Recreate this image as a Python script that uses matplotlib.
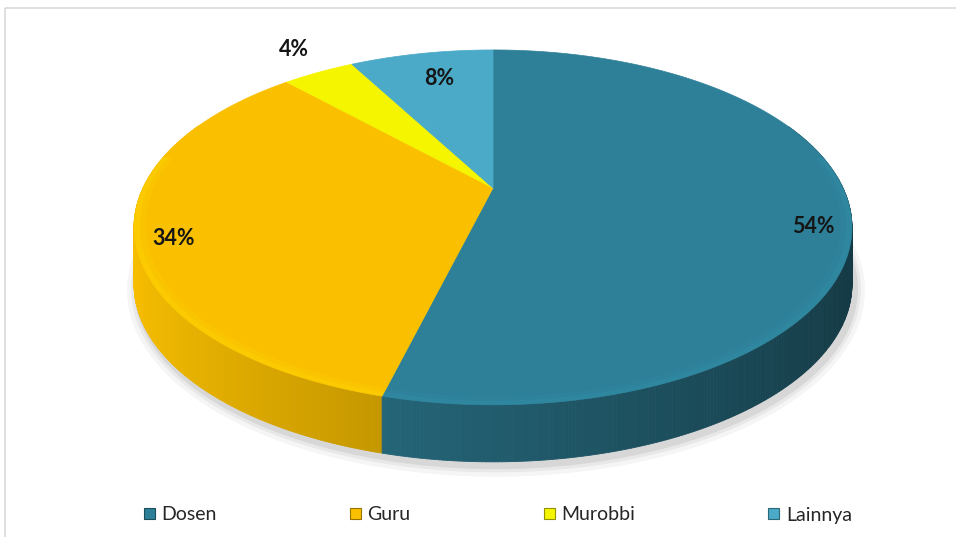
import numpy as np
import matplotlib
matplotlib.use("Agg")
import matplotlib.pyplot as plt
from matplotlib.patches import Polygon, Rectangle, Patch

# ---- data ----
categories = ["Dosen", "Guru", "Murobbi", "Lainnya"]
values = [54, 34, 4, 8]
labels = ["54%", "34%", "4%", "8%"]
colors = ["#2E8098", "#FAC000", "#F5F500", "#4BAAC8"]

# ---- layout (pixel coords) ----
W, H = 956, 537
cx, cy = 493, 188          # pie vertex
A, B = 350, 168.7          # half axes
k = 0.222                  # perspective
thick = 57                 # side wall height
label_r = [0.9, 0.9, 1.2, 0.8]
label_off = [(0, 19), (2, 11), (4, -4), (6, 2)]

fig = plt.figure(figsize=(W / 100, H / 100), dpi=100)
ax = fig.add_axes([0, 0, 1, 1])
ax.set_xlim(0, W)
ax.set_ylim(H, 0)
ax.axis("off")


def proj(theta, r=1.0):
    u = r * np.sin(theta)
    d = -r * np.cos(theta)
    s = 1.0 / (1.0 - k * d)
    return cx + A * u * s, cy + B * d * s


def shade(col, f):
    rgb = np.array(matplotlib.colors.to_rgb(col))
    return tuple(np.clip(rgb * f, 0, 1))


# chart border
ax.add_patch(Rectangle((5, 8), 1200, 800, fill=False, edgecolor="#D9D9D9", lw=1.2))

total = float(sum(values))
bounds = np.concatenate([[0], np.cumsum(values)]) / total * 2 * np.pi

# soft shadow of full disk bottom
tt = np.linspace(0, 2 * np.pi, 400)
for grow, alpha in [(10, 0.04), (6, 0.05), (3, 0.07)]:
    xs, ys = proj(tt)
    xs = cx + (xs - cx) * (1 + grow / 360.0) + 3
    ys = cy + (ys - cy) * (1 + grow / 200.0) + thick + 4
    ax.add_patch(Polygon(np.column_stack([xs, ys]), closed=True,
                         facecolor="black", edgecolor="none", alpha=alpha, zorder=1))

# side walls
strips = []
for i, col in enumerate(colors):
    t1, t2 = bounds[i], bounds[i + 1]
    n = max(2, int(np.degrees(t2 - t1) / 0.5))
    ts = np.linspace(t1, t2, n + 1)
    for a, b in zip(ts[:-1], ts[1:]):
        m = 0.5 * (a + b)
        depth = -np.cos(m)
        if depth < -0.4:
            continue
        x1, y1 = proj(a)
        x2, y2 = proj(b)
        u = np.sin(m)
        f = 0.72 - 0.28 * u
        c = shade(col, f)
        strips.append((depth, [(x1, y1), (x2, y2), (x2, y2 + thick), (x1, y1 + thick)], c))
strips.sort(key=lambda s: s[0])
for depth, pts, c in strips:
    ax.add_patch(Polygon(pts, closed=True, facecolor=c, edgecolor=c, lw=0.6, zorder=2))

# top faces
for i, col in enumerate(colors):
    t1, t2 = bounds[i], bounds[i + 1]
    ts = np.linspace(t1, t2, 200)
    xs, ys = proj(ts)
    pts = [(cx, cy)] + list(zip(xs, ys))
    ax.add_patch(Polygon(pts, closed=True, facecolor=col, edgecolor=col, lw=0.5, zorder=3))
    # subtle lighter bevel near the front rim
    sel = ts[-np.cos(ts) > -0.2]
    if len(sel) > 1:
        for rin, al in [(0.985, 0.25), (0.97, 0.15)]:
            xo, yo = proj(sel, 1.0)
            xi, yi = proj(sel[::-1], rin)
            ring = list(zip(xo, yo)) + list(zip(xi, yi))
            ax.add_patch(Polygon(ring, closed=True, facecolor=shade(col, 1.15),
                                 edgecolor="none", alpha=al, zorder=4))

# labels
for i, lab in enumerate(labels):
    m = 0.5 * (bounds[i] + bounds[i + 1])
    x, y = proj(m, label_r[i])
    ax.text(x + label_off[i][0], y + label_off[i][1], lab, ha="center", va="center",
            fontsize=15.5, fontweight="bold", family="Lato", color="#151515", zorder=6)

# legend
handles = [Patch(facecolor=c, edgecolor=shade(c, 0.6), lw=0.8) for c in colors]
leg = fig.legend(handles, categories, loc="center", bbox_to_anchor=(498 / W, 1 - 515 / H),
                 ncol=4, frameon=False, prop={"family": "Lato", "size": 14},
                 handlelength=0.55, handleheight=0.55, handletextpad=0.35,
                 columnspacing=6.85)
for t in leg.get_texts():
    t.set_color("#262626")

fig.savefig("out.png", dpi=100)
